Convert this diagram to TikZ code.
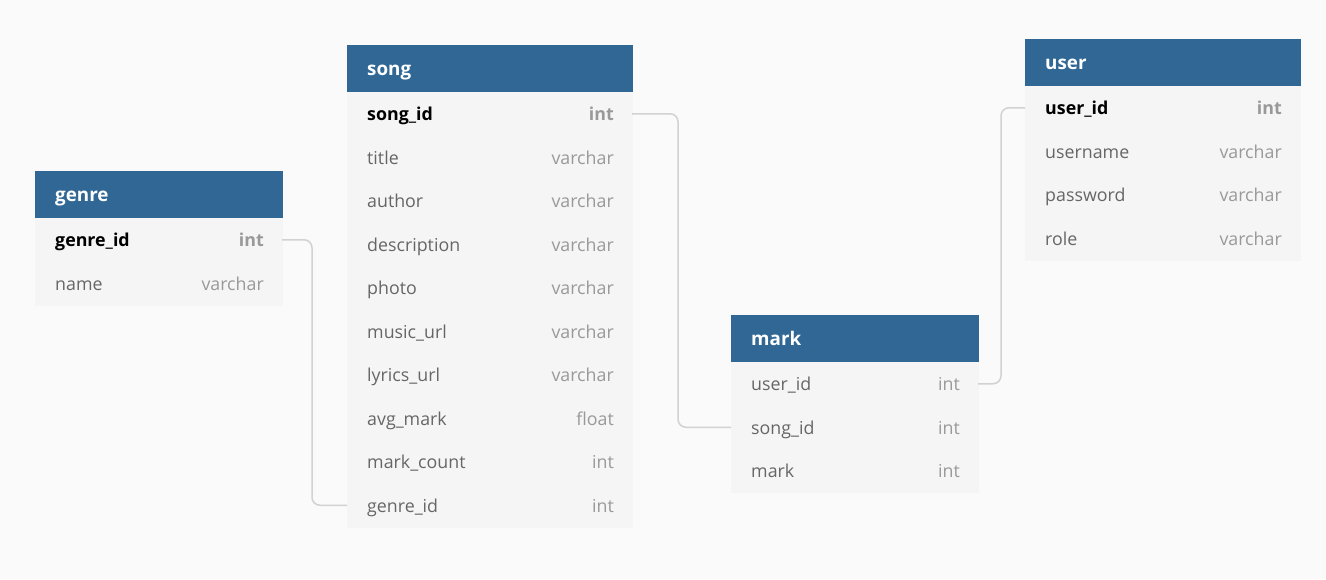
\documentclass[tikz,border=0pt]{standalone}
\usepackage{fontspec}
\setmainfont{Open Sans}
\usetikzlibrary{positioning}

\definecolor{hdrblue}{HTML}{316795}
\definecolor{rowgray}{HTML}{F5F5F5}
\definecolor{bggray}{HTML}{FAFAFA}
\definecolor{linegray}{HTML}{D2D2D2}
\definecolor{namegray}{HTML}{666666}
\definecolor{typegray}{HTML}{999999}

\newcommand\tblfont{\fontsize{17.8pt}{21pt}\selectfont}
\newcommand\hdrfont{\fontsize{18.8pt}{22pt}\selectfont}

\tikzset{
  tbl/.style={inner sep=0pt, outer sep=0pt, anchor=north west},
  tblhead/.style={tbl, fill=hdrblue, draw=hdrblue, line width=0.6pt, minimum height=47pt},
  tblrow/.style={tbl, fill=rowgray, draw=rowgray, line width=0.6pt, minimum height=43.5pt},
  txt/.style={inner sep=0pt, text height=18pt, text depth=4pt},
  headtxt/.style={txt, text=white, font=\hdrfont\bfseries},
  fieldtxt/.style={txt, text=namegray, font=\tblfont},
  typetxt/.style={txt, text=typegray, font=\tblfont},
  keytxt/.style={txt, text=black, font=\tblfont\bfseries},
  keytype/.style={txt, text=typegray, font=\tblfont\bfseries},
  conn/.style={draw=linegray, line width=1.5pt, rounded corners=8pt},
}

\begin{document}
\begin{tikzpicture}[x=1pt, y=-1pt]
  \fill[bggray] (0,0) rectangle (1326,579);
  \useasboundingbox (0,0) rectangle (1326,579);

  % genre
  \node[tblhead, minimum width=247pt] (genre-0) at (35,171) {};
  \node[headtxt, right=20pt of genre-0.west] (genre-h) {genre};
  \foreach \n/\t [count=\i, remember=\i as \p (initially 0)] in
      {genre\_id/int, name/varchar}{
    \ifnum\i=1 \tikzset{nst/.style={keytxt}, tst/.style={keytype}}
    \else \tikzset{nst/.style={fieldtxt}, tst/.style={typetxt}}\fi
    \node[tblrow, minimum width=247pt, below=0pt of genre-\p] (genre-\i) {};
    \node[nst, right=20pt of genre-\i.west] (genre-n\i) {\n};
    \node[tst, left=18pt of genre-\i.east] (genre-t\i) {\t};
  }

  % song
  \node[tblhead, minimum width=285pt] (song-0) at (347,45) {};
  \node[headtxt, right=20pt of song-0.west] (song-h) {song};
  \foreach \n/\t [count=\i, remember=\i as \p (initially 0)] in
      {song\_id/int, title/varchar, author/varchar, description/varchar,
       photo/varchar, music\_url/varchar, lyrics\_url/varchar,
       avg\_mark/float, mark\_count/int, genre\_id/int}{
    \ifnum\i=1 \tikzset{nst/.style={keytxt}, tst/.style={keytype}}
    \else \tikzset{nst/.style={fieldtxt}, tst/.style={typetxt}}\fi
    \node[tblrow, minimum width=285pt, below=0pt of song-\p] (song-\i) {};
    \node[nst, right=20pt of song-\i.west] (song-n\i) {\n};
    \node[tst, left=18pt of song-\i.east] (song-t\i) {\t};
  }

  % mark
  \node[tblhead, minimum width=247pt] (mark-0) at (731,315) {};
  \node[headtxt, right=20pt of mark-0.west] (mark-h) {mark};
  \foreach \n/\t [count=\i, remember=\i as \p (initially 0)] in
      {user\_id/int, song\_id/int, mark/int}{
    \node[tblrow, minimum width=247pt, below=0pt of mark-\p] (mark-\i) {};
    \node[fieldtxt, right=20pt of mark-\i.west] (mark-n\i) {\n};
    \node[typetxt, left=18pt of mark-\i.east] (mark-t\i) {\t};
  }

  % user
  \node[tblhead, minimum width=275pt] (user-0) at (1025,39) {};
  \node[headtxt, right=20pt of user-0.west] (user-h) {user};
  \foreach \n/\t [count=\i, remember=\i as \p (initially 0)] in
      {user\_id/int, username/varchar, password/varchar, role/varchar}{
    \ifnum\i=1 \tikzset{nst/.style={keytxt}, tst/.style={keytype}}
    \else \tikzset{nst/.style={fieldtxt}, tst/.style={typetxt}}\fi
    \node[tblrow, minimum width=275pt, below=0pt of user-\p] (user-\i) {};
    \node[nst, right=20pt of user-\i.west] (user-n\i) {\n};
    \node[tst, left=18pt of user-\i.east] (user-t\i) {\t};
  }

  % relations
  \draw[conn] (genre-1.east) -- ++(30,0) |- (song-10.west);
  \draw[conn] (song-1.east) -- ++(46,0) |- (mark-2.west);
  \draw[conn] (mark-1.east) -- ++(23,0) |- (user-1.west);
\end{tikzpicture}
\end{document}
